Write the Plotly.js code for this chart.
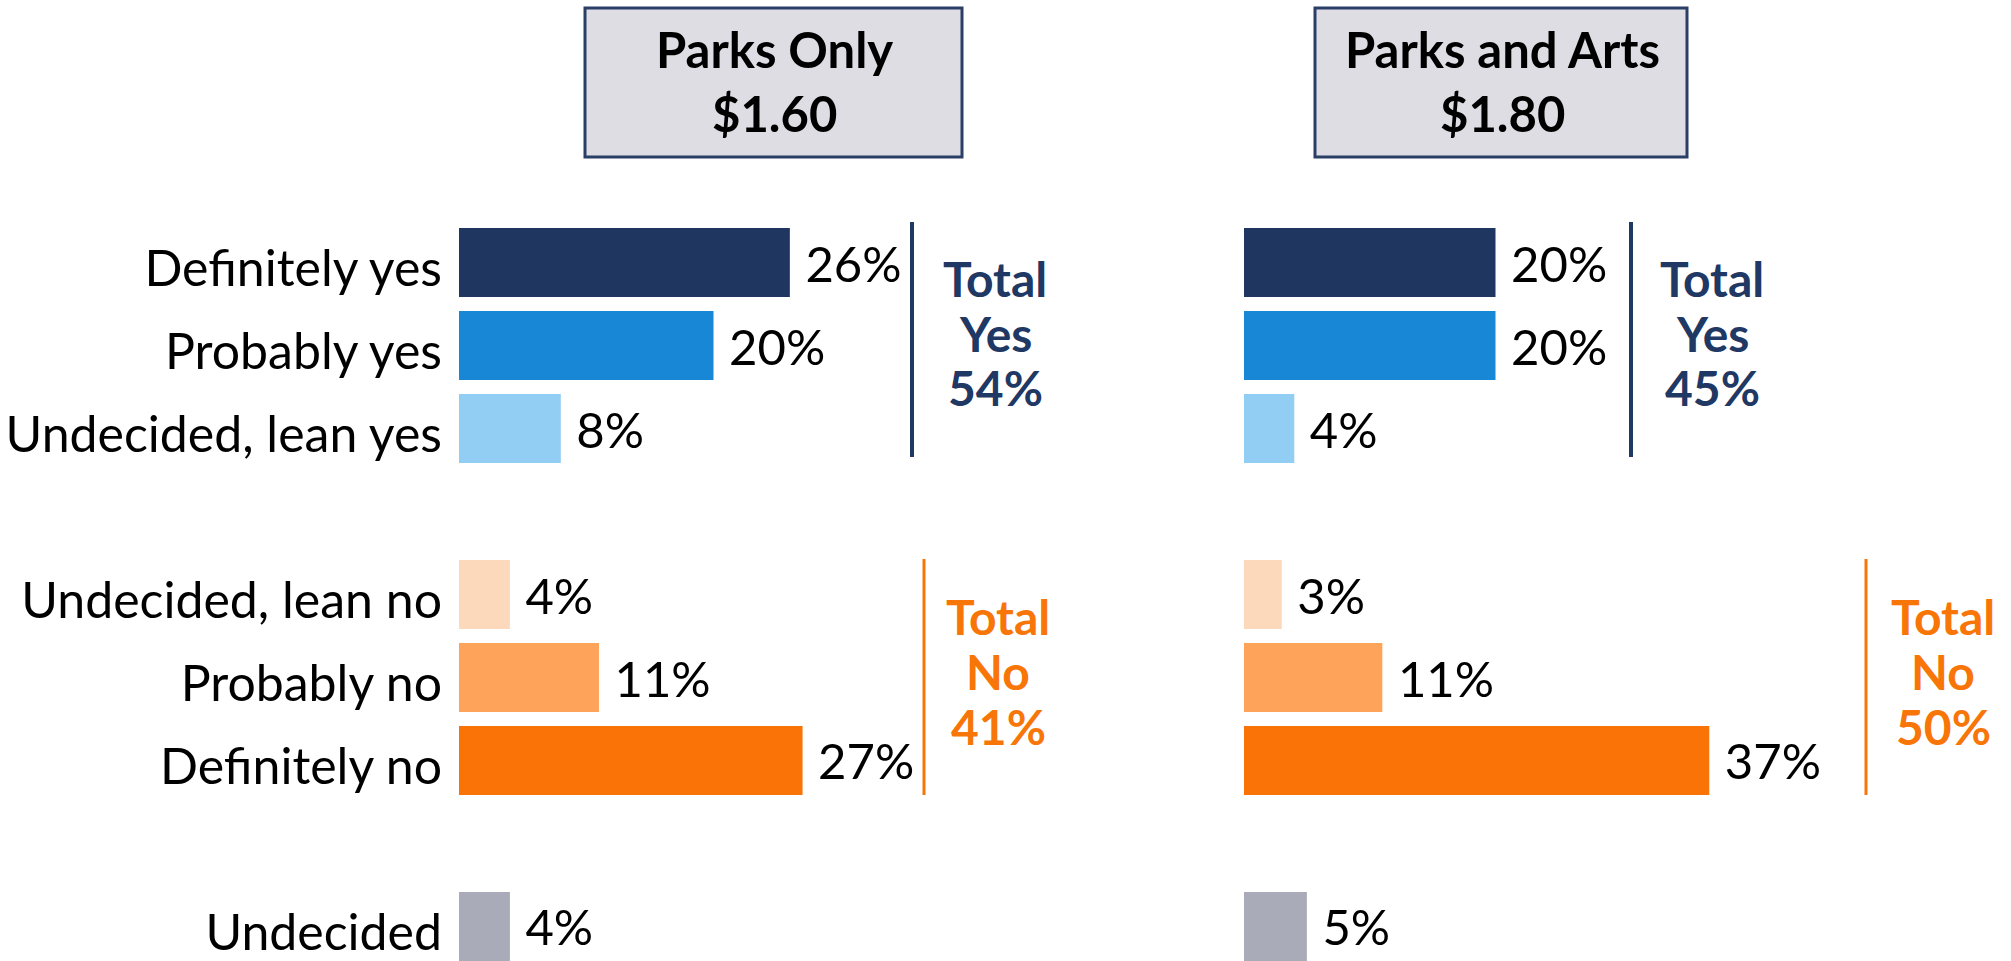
<!DOCTYPE html>
<html>
<head>
<meta charset="utf-8">
<script src="https://cdn.plot.ly/plotly-3.0.1.min.js"></script>
<style>html,body{margin:0;padding:0;background:#fff;}#chart{width:2011px;height:961px;}</style>
</head>
<body>
<div id="chart"></div>
<script>
// ---- data ----
const categories = ["Definitely yes", "Probably yes", "Undecided, lean yes", "Undecided, lean no", "Probably no", "Definitely no", "Undecided"];
const axisOrder = ["Definitely yes", "Probably yes", "Undecided, lean yes", " ", "Undecided, lean no", "Probably no", "Definitely no", "  ", "Undecided"];
const parksOnly = [26, 20, 8, 4, 11, 27, 4];
const parksArts = [20, 20, 4, 3, 11, 37, 5];
const barColors = ["#1E3660", "#1888D6", "#92CDF4", "#FDD9BC", "#FDA45A", "#F97306", "#A9ABB8"];
const panelTitles = ["Parks Only", "Parks and Arts"];
const panelPrices = ["$1.60", "$1.80"];
const totalYes = [54, 45];
const totalNo = [41, 50];

// ---- layout helpers ----
const W = 2011, H = 961;
const px = x => x / W;
const py = y => 1 - y / H;
const FONT = 'Lato, "Open Sans", sans-serif';
const NAVY = "#1F3864", ORANGE = "#F87508";

const traces = [
  {type: "bar", orientation: "h", y: categories, x: parksOnly, xaxis: "x", yaxis: "y",
   marker: {color: barColors}, texttemplate: "\u00a0%{x}%", textposition: "outside",
   constraintext: "none", cliponaxis: false, textfont: {family: FONT, size: 49, color: "#000"},
   hoverinfo: "skip"},
  {type: "bar", orientation: "h", y: categories, x: parksArts, xaxis: "x2", yaxis: "y",
   marker: {color: barColors}, texttemplate: "\u00a0%{x}%", textposition: "outside",
   constraintext: "none", cliponaxis: false, textfont: {family: FONT, size: 49, color: "#000"},
   hoverinfo: "skip"}
];

const panelX = [{box: [585, 962], yesLine: 912, noLine: 924, yesText: 995, noText: 998},
                {box: [1315, 1687], yesLine: 1631, noLine: 1866, yesText: 1712, noText: 1943}];

const shapes = [];
const annotations = [];
panelX.forEach((p, i) => {
  shapes.push({type: "rect", xref: "paper", yref: "paper", x0: px(p.box[0]), x1: px(p.box[1]),
               y0: py(157), y1: py(8), fillcolor: "#DEDDE4", line: {color: "#2B3F66", width: 3}});
  shapes.push({type: "line", xref: "paper", yref: "paper", x0: px(p.yesLine), x1: px(p.yesLine),
               y0: py(222), y1: py(457), line: {color: NAVY, width: 4}});
  shapes.push({type: "line", xref: "paper", yref: "paper", x0: px(p.noLine), x1: px(p.noLine),
               y0: py(559), y1: py(795), line: {color: ORANGE, width: 3}});
  const cx = (p.box[0] + p.box[1]) / 2 + 1;
  annotations.push({xref: "paper", yref: "paper", x: px(cx), y: py(49), xanchor: "center", yanchor: "middle",
                    text: "<b>" + panelTitles[i] + "</b>", showarrow: false,
                    font: {family: FONT, size: 49, color: "#000"}});
  annotations.push({xref: "paper", yref: "paper", x: px(cx), y: py(113), xanchor: "center", yanchor: "middle",
                    text: "<b>" + panelPrices[i] + "</b>", showarrow: false,
                    font: {family: FONT, size: 49, color: "#000"}});
  const yesLines = ["Total", "Yes", totalYes[i] + "%"];
  const noLines = ["Total", "No", totalNo[i] + "%"];
  const yesY = [279, 334, 388], noY = [616, 671, 726];
  yesLines.forEach((t, k) => annotations.push({xref: "paper", yref: "paper", x: px(p.yesText), y: py(yesY[k]),
    xanchor: "center", yanchor: "middle", text: "<b>" + t + "</b>", showarrow: false,
    font: {family: FONT, size: 48, color: NAVY}}));
  noLines.forEach((t, k) => annotations.push({xref: "paper", yref: "paper", x: px(p.noText), y: py(noY[k]),
    xanchor: "center", yanchor: "middle", text: "<b>" + t + "</b>", showarrow: false,
    font: {family: FONT, size: 48, color: ORANGE}}));
});

const layout = {
  width: W, height: H, margin: {l: 0, r: 0, t: 0, b: 0, pad: 0},
  paper_bgcolor: "#fff", plot_bgcolor: "rgba(0,0,0,0)",
  showlegend: false, bargap: 0.169,
  font: {family: FONT, color: "#000"},
  xaxis: {domain: [px(459), px(968)], range: [0, 40], visible: false, fixedrange: true},
  xaxis2: {domain: [px(1244), px(1747)], range: [0, 40], visible: false, anchor: "y", fixedrange: true},
  yaxis: {type: "category", categoryorder: "array", categoryarray: axisOrder,
          range: [8.4157, -3.1627], autorange: false, anchor: "x", showgrid: false, zeroline: false,
          showline: false, ticks: "", ticklabelstandoff: 16, ticklabelshift: -6, fixedrange: true,
          tickfont: {family: FONT, size: 50, color: "#000"}},
  shapes: shapes, annotations: annotations
};

Plotly.newPlot("chart", traces, layout, {displayModeBar: false, staticPlot: true});
</script>
</body>
</html>
